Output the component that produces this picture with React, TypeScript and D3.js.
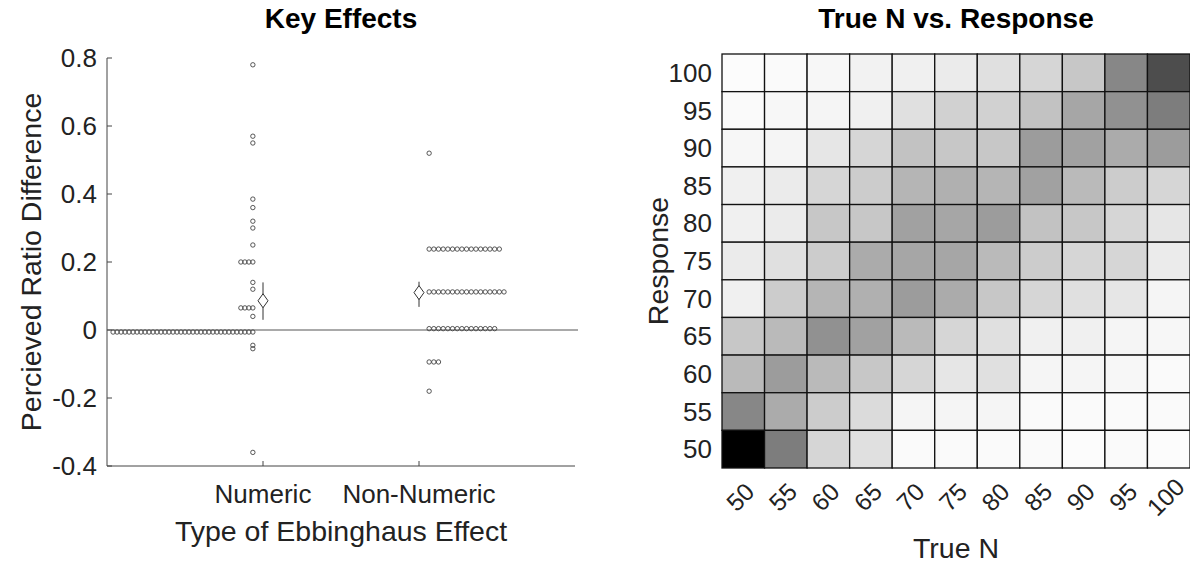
import * as d3 from 'd3'

// Key Effects panel
const groups = ['Numeric', 'Non-Numeric']
const yTicks = [-0.4, -0.2, 0, 0.2, 0.4, 0.6, 0.8]

// each value is drawn `count` times, spread sideways like plotSpread
const numericValues = [0.78, 0.57, 0.55, 0.385, 0.36, 0.32, 0.3, 0.25, 0.2, 0.14, 0.12, 0.065, 0.04, -0.006, -0.045, -0.055, -0.36]
const numericCounts = [1, 1, 1, 1, 1, 1, 1, 1, 4, 1, 1, 4, 1, 36, 1, 1, 1]
const nonNumericValues = [0.52, 0.238, 0.112, 0.004, -0.094, -0.18]
const nonNumericCounts = [1, 16, 17, 15, 3, 1]

const groupMeans = [0.086, 0.11]
const groupLow = [0.03, 0.068]
const groupHigh = [0.14, 0.142]

// True N vs. Response panel
const trueN = [50, 55, 60, 65, 70, 75, 80, 85, 90, 95, 100]
const responseRows = [100, 95, 90, 85, 80, 75, 70, 65, 60, 55, 50]
const responseShare = [
  [1, 2, 3, 5, 6, 8, 12, 16, 22, 47, 70],
  [2, 3, 4, 6, 12, 18, 18, 24, 35, 43, 51],
  [3, 4, 10, 16, 24, 22, 22, 39, 37, 33, 39],
  [6, 8, 16, 20, 29, 31, 29, 37, 27, 20, 16],
  [6, 8, 22, 22, 37, 35, 39, 24, 22, 16, 10],
  [8, 12, 20, 33, 35, 35, 27, 20, 16, 16, 8],
  [6, 20, 29, 31, 39, 33, 22, 16, 12, 10, 4],
  [22, 27, 43, 37, 27, 16, 12, 6, 6, 4, 3],
  [27, 39, 27, 22, 16, 10, 12, 4, 4, 3, 2],
  [47, 33, 20, 14, 4, 4, 4, 2, 2, 2, 2],
  [100, 51, 16, 12, 2, 2, 2, 2, 1, 2, 1],
]

const font = 'Liberation Sans, Arial, sans-serif'

function spread(values: number[], counts: number[], center: number, offset: number, step: number) {
  const pts: { x: number, y: number }[] = []
  values.forEach((v, i) => {
    for (let j = 0; j < counts[i]; j++) pts.push({ x: center + offset + j * step, y: v })
  })
  return pts
}

export default function App() {
  const x = d3.scaleLinear().domain([0, 3]).range([107, 575])
  const y = d3.scaleLinear().domain([-0.4, 0.8]).range([466, 58])

  const points = [
    ...spread(numericValues, numericCounts, 1, -0.065, -0.0256),
    ...spread(nonNumericValues, nonNumericCounts, 2, 0.065, 0.03),
  ]

  const hx = d3.scaleBand<number>().domain(trueN).range([722, 1190])
  const hy = d3.scaleBand<number>().domain(responseRows).range([54, 468])
  const color = d3.scaleLinear<string>().domain([0, 100]).range(['#ffffff', '#000000'])

  const axisColor = '#444'

  return (
    <svg width={1190} height={565} style={{ position: 'absolute', left: 0, top: 0, background: '#fff' }}
      fontFamily={font}>
      {/* ---- left panel ---- */}
      <text x={341} y={28} textAnchor="middle" fontSize={28} fontWeight="bold">Key Effects</text>
      <line x1={x(0)} x2={x(0)} y1={y(0.8)} y2={y(-0.4)} stroke={axisColor} strokeWidth={1} />
      <line x1={x(0)} x2={x(3)} y1={y(-0.4)} y2={y(-0.4)} stroke={axisColor} strokeWidth={1} />
      {yTicks.map((t) => (
        <g key={t}>
          <line x1={x(0)} x2={x(0) + 5} y1={y(t)} y2={y(t)} stroke={axisColor} />
          <text x={97} y={y(t)} dy="0.35em" textAnchor="end" fontSize={26} fill="#222">{t}</text>
        </g>
      ))}
      {groups.map((g, i) => (
        <g key={g}>
          <line x1={x(i + 1)} x2={x(i + 1)} y1={y(-0.4)} y2={y(-0.4) - 5} stroke={axisColor} />
          <text x={x(i + 1)} y={503} textAnchor="middle" fontSize={26} fill="#222">{g}</text>
        </g>
      ))}
      <text x={341} y={541} textAnchor="middle" fontSize={28.5} fill="#222">Type of Ebbinghaus Effect</text>
      <text transform={`translate(41,${(y(0.8) + y(-0.4)) / 2}) rotate(-90)`} textAnchor="middle"
        fontSize={28.5} fill="#222">Percieved Ratio Difference</text>

      <line x1={x(0)} x2={578} y1={y(0)} y2={y(0)} stroke="#555" strokeWidth={1} />

      {points.map((p, i) => (
        <circle key={i} cx={x(p.x)} cy={y(p.y)} r={2.2} fill="none" stroke="#444" strokeWidth={0.9} />
      ))}

      {groupMeans.map((m, i) => {
        const cx = x(i + 1)
        const cy = y(m)
        return (
          <g key={i} stroke="#333" fill="none" strokeWidth={1}>
            <line x1={cx} x2={cx} y1={y(groupHigh[i])} y2={y(groupLow[i])} />
            <path d={`M${cx},${cy - 7}L${cx + 5},${cy}L${cx},${cy + 7}L${cx - 5},${cy}Z`} fill="#fff" />
          </g>
        )
      })}

      {/* ---- right panel ---- */}
      <text x={956} y={28} textAnchor="middle" fontSize={28} fontWeight="bold">True N vs. Response</text>
      {responseRows.map((r, ri) =>
        trueN.map((n, ci) => (
          <rect key={`${r}-${n}`} x={hx(n)} y={hy(r)} width={hx.bandwidth()} height={hy.bandwidth()}
            fill={color(responseShare[ri][ci])} stroke="#111" strokeWidth={1.3} />
        ))
      )}
      {responseRows.map((r) => (
        <text key={r} x={712} y={(hy(r) || 0) + hy.bandwidth() / 2} dy="0.35em" textAnchor="end"
          fontSize={26} fill="#222">{r}</text>
      ))}
      {trueN.map((n) => {
        const cx = (hx(n) || 0) + hx.bandwidth() / 2 - 3
        return (
          <text key={n} transform={`translate(${cx},497) rotate(-45)`} dy="0.35em" textAnchor="middle"
            fontSize={24.5} fill="#222">{n}</text>
        )
      })}
      <text x={956} y={558} textAnchor="middle" fontSize={28.5} fill="#222">True N</text>
      <text transform={`translate(668,${(54 + 468) / 2}) rotate(-90)`} textAnchor="middle"
        fontSize={28.5} fill="#222">Response</text>
    </svg>
  )
}
